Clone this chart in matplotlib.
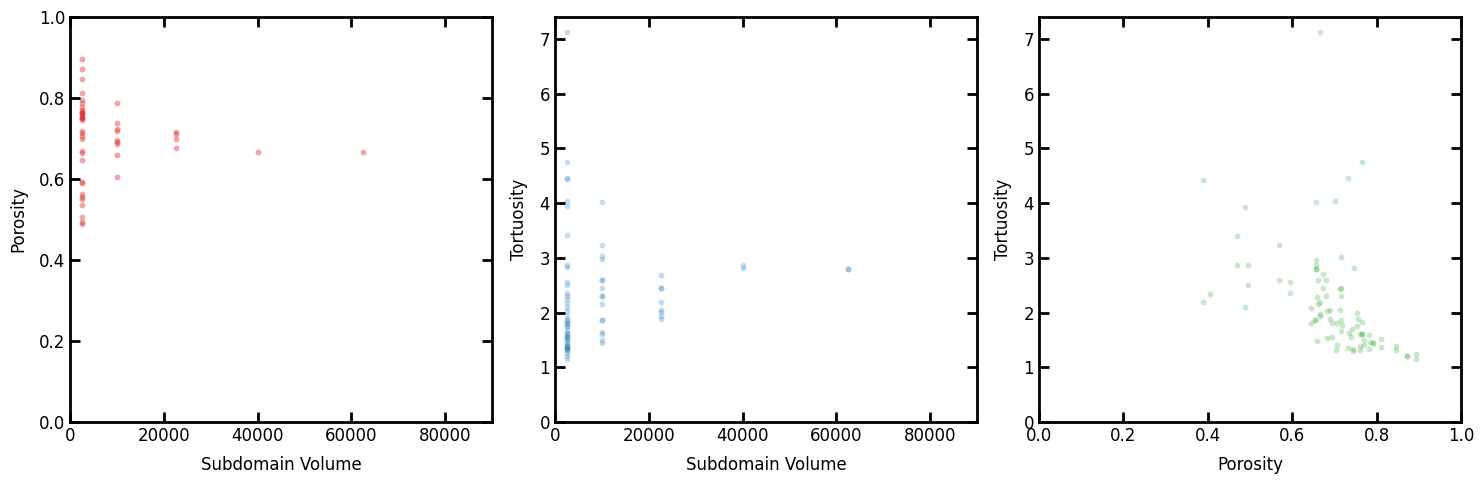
import numpy as np
import matplotlib
matplotlib.use("Agg")
import matplotlib.pyplot as plt

# Panel 1: subdomain volume vs porosity
vol_por_x = [2500] * 32 + [10000] * 9 + [22500] * 4 + [40000, 62500]
vol_por_y = [0.896, 0.872, 0.847, 0.812, 0.795, 0.787, 0.779, 0.770, 0.766, 0.762,
             0.758, 0.754, 0.750, 0.746, 0.762, 0.750, 0.719, 0.713, 0.707, 0.700,
             0.670, 0.663, 0.647, 0.593, 0.591, 0.563, 0.556, 0.550, 0.536, 0.505,
             0.495, 0.488,
             0.787, 0.738, 0.723, 0.719, 0.696, 0.692, 0.686, 0.659, 0.604,
             0.717, 0.711, 0.699, 0.677,
             0.667, 0.667]

# Panel 2: subdomain volume vs tortuosity
tort_2500 = [7.13, 4.75, 4.45, 4.44, 4.04, 3.95, 3.41, 2.86, 2.83, 2.55, 2.51,
             2.36, 2.31, 2.24, 2.18, 2.10, 2.02, 1.93, 1.87, 1.81, 1.75, 1.69,
             1.63, 1.58, 1.53, 1.49, 1.44, 1.39, 1.35, 1.31, 1.26, 1.20, 1.15,
             1.87, 1.81, 1.63, 1.58, 1.53, 1.44, 1.39, 1.35, 1.35, 1.31, 1.75]
tort_10000 = [4.02, 3.24, 3.03, 2.97, 2.59, 2.59, 2.45, 2.31, 2.31, 2.16, 1.87,
              1.87, 1.65, 1.61, 1.49, 1.44]
tort_22500 = [2.69, 2.44, 2.44, 2.20, 2.04, 2.01, 1.94, 1.88]
tort_40000 = [2.86, 2.81]
tort_62500 = [2.79, 2.79]
vol_tort_x = ([2500] * len(tort_2500) + [10000] * len(tort_10000) + [22500] * len(tort_22500)
              + [40000] * len(tort_40000) + [62500] * len(tort_62500))
vol_tort_y = tort_2500 + tort_10000 + tort_22500 + tort_40000 + tort_62500

# Panel 3: porosity vs tortuosity
por_tort_x = [0.666, 0.765, 0.389, 0.733, 0.656, 0.702, 0.487, 0.469, 0.569, 0.656,
              0.656, 0.656, 0.656, 0.716, 0.746, 0.469, 0.496, 0.496, 0.569, 0.595,
              0.595, 0.405, 0.389, 0.487, 0.674, 0.661, 0.681, 0.674, 0.713, 0.716,
              0.658, 0.681, 0.716, 0.667, 0.661, 0.645, 0.682, 0.690, 0.713, 0.667,
              0.667, 0.655, 0.655, 0.645, 0.690, 0.694, 0.707, 0.716, 0.717, 0.753,
              0.755, 0.765, 0.741, 0.753, 0.716, 0.735, 0.739, 0.761, 0.765, 0.765,
              0.783, 0.771, 0.784, 0.792, 0.792, 0.810, 0.810, 0.771, 0.761, 0.783,
              0.733, 0.745, 0.745, 0.761, 0.707, 0.703, 0.682, 0.694, 0.658, 0.845,
              0.845, 0.871, 0.871, 0.893, 0.893]
por_tort_y = [7.13, 4.75, 4.43, 4.46, 4.02, 4.03, 3.93, 3.40, 3.24, 2.96,
              2.86, 2.80, 2.80, 3.02, 2.82, 2.86, 2.86, 2.50, 2.59, 2.55,
              2.36, 2.33, 2.19, 2.11, 2.70, 2.60, 2.59, 2.44, 2.43, 2.45,
              2.29, 2.31, 2.31, 2.20, 2.16, 2.08, 2.03, 2.04, 2.05, 1.97,
              1.93, 1.86, 1.86, 1.81, 1.89, 1.81, 1.80, 1.87, 1.78, 1.99,
              1.89, 1.82, 1.70, 1.75, 1.67, 1.62, 1.56, 1.61, 1.60, 1.61,
              1.59, 1.50, 1.46, 1.45, 1.45, 1.51, 1.37, 1.41, 1.39, 1.34,
              1.36, 1.33, 1.30, 1.31, 1.41, 1.32, 1.53, 1.56, 1.48, 1.39,
              1.32, 1.20, 1.20, 1.25, 1.15]

plt.rcParams['font.family'] = 'DejaVu Sans'
fig = plt.figure(figsize=(14.84, 4.84), dpi=100)
ax_w, ax_h, ax_b = 422 / 1484, 405 / 484, 62 / 484
ax1 = fig.add_axes([70 / 1484, ax_b, ax_w, ax_h])
ax2 = fig.add_axes([555 / 1484, ax_b, ax_w, ax_h])
ax3 = fig.add_axes([1039 / 1484, ax_b, ax_w, ax_h])

ax1.scatter(vol_por_x, vol_por_y, s=18, color='#d62728', alpha=0.4, linewidths=0)
ax2.scatter(vol_tort_x, vol_tort_y, s=18, color='#1f77b4', alpha=0.25, linewidths=0)
ax3.scatter(por_tort_x, por_tort_y, s=18, color='#2ca02c', alpha=0.25, linewidths=0)

ax1.set_xlim(0, 90000)
ax1.set_ylim(0, 1.0)
ax1.set_xlabel('Subdomain Volume', fontsize=12, labelpad=8)
ax1.set_ylabel('Porosity', fontsize=12, labelpad=8)

ax2.set_xlim(0, 90000)
ax2.set_ylim(0, 7.4)
ax2.set_xlabel('Subdomain Volume', fontsize=12, labelpad=8)
ax2.set_ylabel('Tortuosity', fontsize=12, labelpad=8)

ax3.set_xlim(0, 1.0)
ax3.set_ylim(0, 7.4)
ax3.set_xlabel('Porosity', fontsize=12, labelpad=8)
ax3.set_ylabel('Tortuosity', fontsize=12, labelpad=8)

for ax in (ax1, ax2, ax3):
    ax.tick_params(direction='in', top=True, right=True, length=7, width=2, labelsize=12)
    for sp in ax.spines.values():
        sp.set_linewidth(2)

fig.savefig('out.png', dpi=100, facecolor='white')
